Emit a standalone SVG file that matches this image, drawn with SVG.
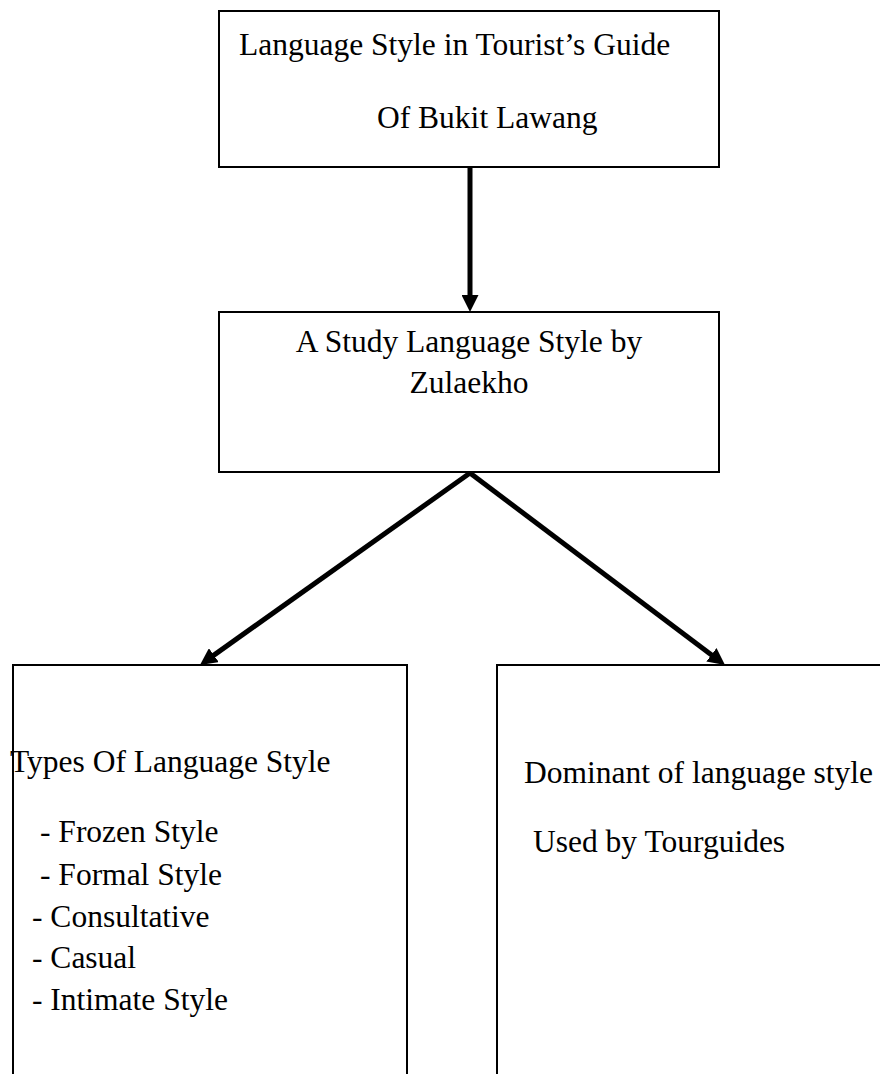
<svg xmlns="http://www.w3.org/2000/svg" width="880" height="1074" viewBox="0 0 880 1074">
<style>
.box{fill:#fff;stroke:#000;stroke-width:2}
.t{font-family:"Liberation Serif","Times New Roman",serif;font-size:31.5px;fill:#000}
.c{text-anchor:middle}
.conn{stroke:#000;stroke-width:5;fill:none}
</style>
<defs>
<marker id="ah" viewBox="0 0 10 10" refX="5" refY="5" markerWidth="17" markerHeight="17" markerUnits="userSpaceOnUse" orient="auto">
<path d="M0,0 L10,5 L0,10 z" fill="#000"/>
</marker>
</defs>
<rect width="880" height="1074" fill="#fff"/>
<g id="connectors">
<line class="conn" x1="470" y1="167" x2="470" y2="303.5" marker-end="url(#ah)"/>
<line class="conn" x1="470" y1="473" x2="206.9" y2="660.1" marker-end="url(#ah)"/>
<line class="conn" x1="470" y1="473" x2="718.2" y2="659.9" marker-end="url(#ah)"/>
</g>
<g id="node-title">
<rect class="box" x="219" y="11" width="500" height="156"/>
<text class="t" x="239" y="55">Language Style in Tourist’s Guide</text>
<text class="t" x="377" y="128">Of Bukit Lawang</text>
</g>
<g id="node-study">
<rect class="box" x="219" y="312" width="500" height="160"/>
<text class="t c" x="469" y="352">A Study Language Style by</text>
<text class="t c" x="469" y="393">Zulaekho</text>
</g>
<g id="node-types">
<rect class="box" x="13" y="665" width="394" height="430"/>
<text class="t" x="10" y="772">Types Of Language Style</text>
<text class="t" x="40" y="842">- Frozen Style</text>
<text class="t" x="40" y="885">- Formal Style</text>
<text class="t" x="32" y="927">- Consultative</text>
<text class="t" x="32" y="968">- Casual</text>
<text class="t" x="32" y="1010">- Intimate Style</text>
</g>
<g id="node-dominant">
<rect class="box" x="497" y="665" width="400" height="430"/>
<text class="t" x="524" y="783">Dominant of language style</text>
<text class="t" x="533" y="852">Used by Tourguides</text>
</g>
</svg>
